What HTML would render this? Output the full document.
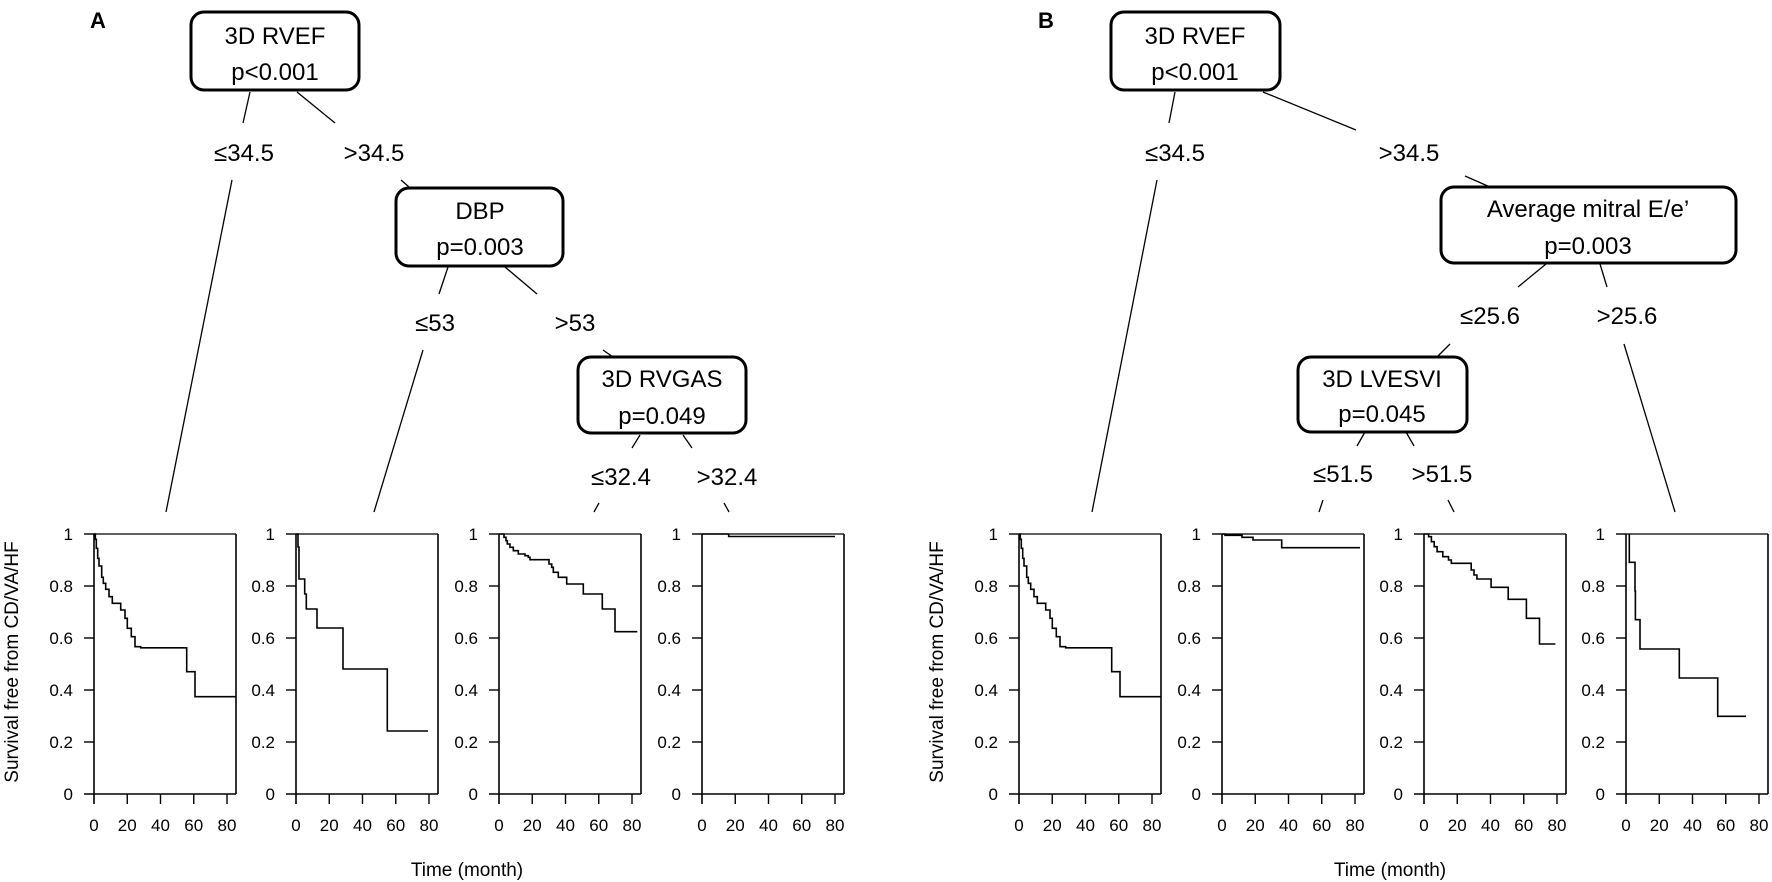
<!DOCTYPE html>
<html><head><meta charset="utf-8"><style>
html,body{margin:0;padding:0;background:#fff;}
svg{display:block;}
.t{font-family:"Liberation Sans",sans-serif;font-size:24px;fill:#000;}
.k{font-family:"Liberation Sans",sans-serif;font-size:17px;fill:#000;}
.yl{text-anchor:end;}
.xl{text-anchor:middle;}
.c{text-anchor:middle;}
line,path,polyline{stroke:#000;fill:none;}
</style></head><body>
<svg width="1772" height="882" viewBox="0 0 1772 882" xmlns="http://www.w3.org/2000/svg">
<defs>
<g id="ax">
<line x1="0" y1="0" x2="142" y2="0" stroke="#ddd" stroke-width="1.2"/>
<line x1="0" y1="0" x2="0" y2="270" stroke-width="1.6"/>
<line x1="142" y1="0" x2="142" y2="260" stroke-width="1.6"/>
<line x1="-10" y1="260" x2="142" y2="260" stroke-width="1.6"/>
<line x1="-10" y1="0" x2="0" y2="0" stroke-width="1.4"/>
<line x1="-10" y1="52" x2="0" y2="52" stroke-width="1.4"/>
<line x1="-10" y1="104" x2="0" y2="104" stroke-width="1.4"/>
<line x1="-10" y1="156" x2="0" y2="156" stroke-width="1.4"/>
<line x1="-10" y1="208" x2="0" y2="208" stroke-width="1.4"/>
<line x1="33.25" y1="260" x2="33.25" y2="270" stroke-width="1.4"/>
<line x1="66.5" y1="260" x2="66.5" y2="270" stroke-width="1.4"/>
<line x1="99.75" y1="260" x2="99.75" y2="270" stroke-width="1.4"/>
<line x1="133" y1="260" x2="133" y2="270" stroke-width="1.4"/>
</g>
</defs>

<text x="90" y="28" style="font-family:'Liberation Sans',sans-serif;font-size:22px;font-weight:bold">A</text>
<text x="1038" y="28" style="font-family:'Liberation Sans',sans-serif;font-size:22px;font-weight:bold">B</text>

<rect x="191" y="12" width="168" height="78" rx="13" fill="#fff" stroke="#000" stroke-width="3"/>
<text class="t c" x="275" y="44">3D RVEF</text>
<text class="t c" x="275" y="80">p&lt;0.001</text>
<line x1="250" y1="92" x2="243" y2="123" stroke-width="1.3"/>
<line x1="297" y1="92" x2="335" y2="123" stroke-width="1.3"/>
<text class="t c" x="244" y="161">≤34.5</text>
<text class="t c" x="374" y="161">&gt;34.5</text>
<line x1="232" y1="180" x2="166" y2="512" stroke-width="1.3"/>
<line x1="401" y1="180" x2="409" y2="187" stroke-width="1.3"/>

<rect x="396" y="188" width="167" height="78" rx="13" fill="#fff" stroke="#000" stroke-width="3"/>
<text class="t c" x="480" y="219">DBP</text>
<text class="t c" x="480" y="255">p=0.003</text>
<line x1="448" y1="267" x2="439" y2="294" stroke-width="1.3"/>
<line x1="505" y1="267" x2="537" y2="294" stroke-width="1.3"/>
<text class="t c" x="435" y="331">≤53</text>
<text class="t c" x="575" y="331">&gt;53</text>
<line x1="423" y1="350" x2="374" y2="512" stroke-width="1.3"/>
<line x1="603" y1="350" x2="613" y2="357" stroke-width="1.3"/>

<rect x="578" y="357" width="168" height="76" rx="13" fill="#fff" stroke="#000" stroke-width="3"/>
<text class="t c" x="662" y="387">3D RVGAS</text>
<text class="t c" x="662" y="424">p=0.049</text>
<line x1="640" y1="435" x2="632" y2="448" stroke-width="1.3"/>
<line x1="683" y1="435" x2="692" y2="448" stroke-width="1.3"/>
<text class="t c" x="621" y="485">≤32.4</text>
<text class="t c" x="727" y="485">&gt;32.4</text>
<line x1="599" y1="503" x2="594" y2="512" stroke-width="1.3"/>
<line x1="724" y1="503" x2="729" y2="512" stroke-width="1.3"/>

<rect x="1111" y="12" width="169" height="78" rx="13" fill="#fff" stroke="#000" stroke-width="3"/>
<text class="t c" x="1195" y="44">3D RVEF</text>
<text class="t c" x="1195" y="80">p&lt;0.001</text>
<line x1="1175" y1="92" x2="1169" y2="123" stroke-width="1.3"/>
<line x1="1263" y1="92" x2="1356" y2="130" stroke-width="1.3"/>
<text class="t c" x="1175" y="161">≤34.5</text>
<text class="t c" x="1409" y="161">&gt;34.5</text>
<line x1="1157" y1="180" x2="1092" y2="512" stroke-width="1.3"/>
<line x1="1465" y1="176" x2="1490" y2="187" stroke-width="1.3"/>

<rect x="1441" y="187" width="295" height="76" rx="13" fill="#fff" stroke="#000" stroke-width="3"/>
<text class="t c" x="1588" y="217">Average mitral E/e’</text>
<text class="t c" x="1588" y="254">p=0.003</text>
<line x1="1546" y1="264" x2="1518" y2="287" stroke-width="1.3"/>
<line x1="1600" y1="264" x2="1607" y2="287" stroke-width="1.3"/>
<text class="t c" x="1490" y="324">≤25.6</text>
<text class="t c" x="1627" y="324">&gt;25.6</text>
<line x1="1450" y1="344" x2="1438" y2="356" stroke-width="1.3"/>
<line x1="1624" y1="344" x2="1675" y2="512" stroke-width="1.3"/>

<rect x="1298" y="357" width="169" height="75" rx="13" fill="#fff" stroke="#000" stroke-width="3"/>
<text class="t c" x="1382" y="387">3D LVESVI</text>
<text class="t c" x="1382" y="422">p=0.045</text>
<line x1="1365" y1="432" x2="1357" y2="446" stroke-width="1.3"/>
<line x1="1406" y1="432" x2="1414" y2="446" stroke-width="1.3"/>
<text class="t c" x="1343" y="482">≤51.5</text>
<text class="t c" x="1442" y="482">&gt;51.5</text>
<line x1="1323" y1="500" x2="1319" y2="512" stroke-width="1.3"/>
<line x1="1448" y1="500" x2="1454" y2="512" stroke-width="1.3"/>

<text class="k" transform="translate(18,662) rotate(-90)" text-anchor="middle" style="font-size:19px">Survival free from CD/VA/HF</text>
<text class="k" transform="translate(943,662) rotate(-90)" text-anchor="middle" style="font-size:19px">Survival free from CD/VA/HF</text>
<text class="k" x="467" y="876" text-anchor="middle" style="font-size:19px">Time (month)</text>
<text class="k" x="1390" y="876" text-anchor="middle" style="font-size:19px">Time (month)</text>

<g transform="translate(94,534)">
<use href="#ax"/>
<text class="k yl" x="-21" y="6">1</text><text class="k yl" x="-21" y="58">0.8</text><text class="k yl" x="-21" y="110">0.6</text><text class="k yl" x="-21" y="162">0.4</text><text class="k yl" x="-21" y="214">0.2</text><text class="k yl" x="-21" y="266">0</text>
<text class="k xl" x="0" y="297">0</text><text class="k xl" x="33.25" y="297">20</text><text class="k xl" x="66.5" y="297">40</text><text class="k xl" x="99.75" y="297">60</text><text class="k xl" x="133" y="297">80</text>
<polyline stroke-width="1.6" points="0,0 1.3,0 1.3,5.3 2.3,5.3 2.3,14.3 3.7,14.3 3.7,24.3 5,24.3 5,32 7.7,32 7.7,43.3 9.3,43.3 9.3,49.3 11.7,49.3 11.7,55.3 15,55.3 15,62.7 18.3,62.7 18.3,69.3 26.7,69.3 26.7,76 31,76 31,84.3 33.3,84.3 33.3,94.3 37.3,94.3 37.3,102.7 41,102.7 41,112.7 46.7,112.7 46.7,113.8 92.7,113.8 92.7,137.7 101,137.7 101,162.7 142,162.7"/>
</g>
<g transform="translate(296,534)">
<use href="#ax"/>
<text class="k yl" x="-21" y="6">1</text><text class="k yl" x="-21" y="58">0.8</text><text class="k yl" x="-21" y="110">0.6</text><text class="k yl" x="-21" y="162">0.4</text><text class="k yl" x="-21" y="214">0.2</text><text class="k yl" x="-21" y="266">0</text>
<text class="k xl" x="0" y="297">0</text><text class="k xl" x="33.25" y="297">20</text><text class="k xl" x="66.5" y="297">40</text><text class="k xl" x="99.75" y="297">60</text><text class="k xl" x="133" y="297">80</text>
<polyline stroke-width="1.6" points="0,0 2,0 2,13 3,13 3,45 8.7,45 8.7,60 10.3,60 10.3,75 21,75 21,94 47,94 47,135 91.3,135 91.3,197 132,197"/>
</g>
<g transform="translate(499,534)">
<use href="#ax"/>
<text class="k yl" x="-21" y="6">1</text><text class="k yl" x="-21" y="58">0.8</text><text class="k yl" x="-21" y="110">0.6</text><text class="k yl" x="-21" y="162">0.4</text><text class="k yl" x="-21" y="214">0.2</text><text class="k yl" x="-21" y="266">0</text>
<text class="k xl" x="0" y="297">0</text><text class="k xl" x="33.25" y="297">20</text><text class="k xl" x="66.5" y="297">40</text><text class="k xl" x="99.75" y="297">60</text><text class="k xl" x="133" y="297">80</text>
<polyline stroke-width="1.6" points="0,0 5,0 5,3.3 7,3.3 7,6.7 8.3,6.7 8.3,10 11,10 11,13.3 14.3,13.3 14.3,16.7 19.3,16.7 19.3,20 26,20 26,21.7 29.3,21.7 29.3,23.3 31,23.3 31,25.7 50,25.7 50,30 52.7,30 52.7,33.3 54.3,33.3 54.3,38.3 59.3,38.3 59.3,43.3 67.7,43.3 67.7,50 84.3,50 84.3,60 103.3,60 103.3,75 116,75 116,97.7 138.3,97.7"/>
</g>
<g transform="translate(702,534)">
<use href="#ax"/>
<text class="k yl" x="-21" y="6">1</text><text class="k yl" x="-21" y="58">0.8</text><text class="k yl" x="-21" y="110">0.6</text><text class="k yl" x="-21" y="162">0.4</text><text class="k yl" x="-21" y="214">0.2</text><text class="k yl" x="-21" y="266">0</text>
<text class="k xl" x="0" y="297">0</text><text class="k xl" x="33.25" y="297">20</text><text class="k xl" x="66.5" y="297">40</text><text class="k xl" x="99.75" y="297">60</text><text class="k xl" x="133" y="297">80</text>
<polyline stroke-width="1.6" points="0,0 26.7,0 26.7,2.5 133,2.5"/>
</g>
<g transform="translate(1019,534)">
<use href="#ax"/>
<text class="k yl" x="-21" y="6">1</text><text class="k yl" x="-21" y="58">0.8</text><text class="k yl" x="-21" y="110">0.6</text><text class="k yl" x="-21" y="162">0.4</text><text class="k yl" x="-21" y="214">0.2</text><text class="k yl" x="-21" y="266">0</text>
<text class="k xl" x="0" y="297">0</text><text class="k xl" x="33.25" y="297">20</text><text class="k xl" x="66.5" y="297">40</text><text class="k xl" x="99.75" y="297">60</text><text class="k xl" x="133" y="297">80</text>
<polyline stroke-width="1.6" points="0,0 1.3,0 1.3,5.3 2.3,5.3 2.3,14.3 3.7,14.3 3.7,24.3 5,24.3 5,32 7.7,32 7.7,43.3 9.3,43.3 9.3,49.3 11.7,49.3 11.7,55.3 15,55.3 15,62.7 18.3,62.7 18.3,69.3 26.7,69.3 26.7,76 31,76 31,84.3 33.3,84.3 33.3,94.3 37.3,94.3 37.3,102.7 41,102.7 41,112.7 46.7,112.7 46.7,113.8 92.7,113.8 92.7,137.7 101,137.7 101,162.7 142,162.7"/>
</g>
<g transform="translate(1222,534)">
<use href="#ax"/>
<text class="k yl" x="-21" y="6">1</text><text class="k yl" x="-21" y="58">0.8</text><text class="k yl" x="-21" y="110">0.6</text><text class="k yl" x="-21" y="162">0.4</text><text class="k yl" x="-21" y="214">0.2</text><text class="k yl" x="-21" y="266">0</text>
<text class="k xl" x="0" y="297">0</text><text class="k xl" x="33.25" y="297">20</text><text class="k xl" x="66.5" y="297">40</text><text class="k xl" x="99.75" y="297">60</text><text class="k xl" x="133" y="297">80</text>
<polyline stroke-width="1.6" points="0,0 3,0 3,1.3 20,1.3 20,3.3 31,3.3 31,6 59.7,6 59.7,13.7 138,13.7"/>
</g>
<g transform="translate(1424,534)">
<use href="#ax"/>
<text class="k yl" x="-21" y="6">1</text><text class="k yl" x="-21" y="58">0.8</text><text class="k yl" x="-21" y="110">0.6</text><text class="k yl" x="-21" y="162">0.4</text><text class="k yl" x="-21" y="214">0.2</text><text class="k yl" x="-21" y="266">0</text>
<text class="k xl" x="0" y="297">0</text><text class="k xl" x="33.25" y="297">20</text><text class="k xl" x="66.5" y="297">40</text><text class="k xl" x="99.75" y="297">60</text><text class="k xl" x="133" y="297">80</text>
<polyline stroke-width="1.6" points="0,0 4.6,0 4.6,2.7 7.4,2.7 7.4,7.7 10.2,7.7 10.2,12.7 13.1,12.7 13.1,17.7 18.8,17.7 18.8,22.7 24.5,22.7 24.5,26 27.3,26 27.3,29.3 47.2,29.3 47.2,36 50,36 50,41 52.9,41 52.9,45 67.1,45 67.1,53.3 84.2,53.3 84.2,65.3 102.4,65.3 102.4,84.3 115.5,84.3 115.5,110 131.4,110"/>
</g>
<g transform="translate(1626,534)">
<use href="#ax"/>
<text class="k yl" x="-21" y="6">1</text><text class="k yl" x="-21" y="58">0.8</text><text class="k yl" x="-21" y="110">0.6</text><text class="k yl" x="-21" y="162">0.4</text><text class="k yl" x="-21" y="214">0.2</text><text class="k yl" x="-21" y="266">0</text>
<text class="k xl" x="0" y="297">0</text><text class="k xl" x="33.25" y="297">20</text><text class="k xl" x="66.5" y="297">40</text><text class="k xl" x="99.75" y="297">60</text><text class="k xl" x="133" y="297">80</text>
<polyline stroke-width="1.6" points="3.3,0 3.3,28.3 9,28.3 9,57 9.4,57 9.4,85.7 14,85.7 14,115 53.3,115 53.3,144 91.7,144 91.7,182.3 120,182.3"/>
</g>
</svg>
</body></html>
